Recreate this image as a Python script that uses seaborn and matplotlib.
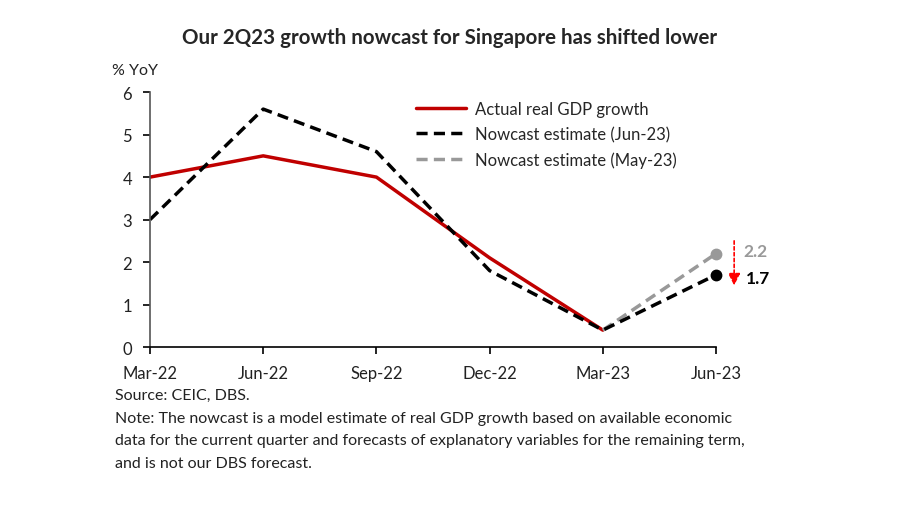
import matplotlib
matplotlib.use("Agg")
import matplotlib.pyplot as plt
import seaborn as sns
import pandas as pd
import numpy as np

quarters = ["Mar-22", "Jun-22", "Sep-22", "Dec-22", "Mar-23", "Jun-23"]
actual = [4.0, 4.5, 4.0, 2.1, 0.4, None]
nowcast_jun = [3.0, 5.6, 4.6, 1.8, 0.4, 1.7]
nowcast_may = [None, None, None, None, 0.4, 2.2]
y_ticks = [0, 1, 2, 3, 4, 5, 6]

sns.set_theme(style="white")
plt.rcParams["font.family"] = ["Lato", "DejaVu Sans"]

fig = plt.figure(figsize=(9, 5.06), dpi=100)
ax = fig.add_axes([0.1667, 0.312, 0.7956 - 0.1667, 0.816 - 0.312])

x = np.arange(len(quarters))
df = pd.DataFrame({"x": x, "q": quarters, "actual": actual,
                   "jun": nowcast_jun, "may": nowcast_may})

sns.lineplot(data=df.dropna(subset=["actual"]), x="x", y="actual", ax=ax,
             color="#c00000", lw=2.5, label="Actual real GDP growth")
sns.lineplot(data=df.dropna(subset=["may"]), x="x", y="may", ax=ax,
             color="#999999", lw=2.5, linestyle=(0, (3.2, 1.8)),
             label="Nowcast estimate (May-23)")
sns.lineplot(data=df, x="x", y="jun", ax=ax,
             color="black", lw=2.5, linestyle=(0, (3.2, 1.8)),
             label="Nowcast estimate (Jun-23)")

ax.plot(x[-1], nowcast_may[-1], "o", color="#999999", ms=7.5, zorder=5, clip_on=False)
ax.plot(x[-1], nowcast_jun[-1], "o", color="black", ms=7.5, zorder=5, clip_on=False)

ax.set_xlim(0, len(quarters) - 1)
ax.set_ylim(0, 6)
ax.set_xticks(x)
ax.set_xticklabels(quarters)
ax.set_yticks(y_ticks)
ax.set_xlabel("")
ax.set_ylabel("")
for s in ["top", "right"]:
    ax.spines[s].set_visible(False)
for s in ["left", "bottom"]:
    ax.spines[s].set_color("black")
    ax.spines[s].set_linewidth(1.2)
ax.spines["left"].set_color("#555555")
ax.tick_params(axis="both", direction="out", length=5, width=1.2, color="black",
               labelsize=12, labelcolor="#222222", bottom=True, left=True)
ax.tick_params(axis="x", pad=8)
ax.tick_params(axis="y", pad=8)

handles, labels = ax.get_legend_handles_labels()
order = [0, 2, 1]
ax.legend([handles[i] for i in order], [labels[i] for i in order],
          loc="upper left", bbox_to_anchor=(0.444, 1.025), frameon=False,
          fontsize=12, handlelength=3.0, handletextpad=0.5, labelspacing=0.55)

# annotation arrow
ax.annotate("", xy=(5.16, 1.45), xytext=(5.16, 2.5), annotation_clip=False,
            arrowprops=dict(arrowstyle="-|>", color="red", lw=1.2,
                            linestyle=(0, (2, 1.5)), mutation_scale=18,
                            shrinkA=0, shrinkB=0))
ax.text(5.24, 2.25, f"{nowcast_may[-1]:.1f}", color="#999999", fontsize=12.5,
        fontweight="bold", va="center", ha="left")
ax.text(5.26, 1.62, f"{nowcast_jun[-1]:.1f}", color="black", fontsize=12.5,
        fontweight="bold", va="center", ha="left")

fig.text(0.150, 0.860, "% YoY", fontsize=11.5, color="#222222", ha="center", va="center")
fig.text(0.5, 0.925, "Our 2Q23 growth nowcast for Singapore has shifted lower",
         fontsize=14.8, fontweight="bold", ha="center", va="center")

notes = ("Source: CEIC, DBS.\n"
         "Note: The nowcast is a model estimate of real GDP growth based on available economic\n"
         "data for the current quarter and forecasts of explanatory variables for the remaining term,\n"
         "and is not our DBS forecast.")
fig.text(0.128, 0.231, notes, fontsize=11.5, color="#222222", ha="left", va="top",
         linespacing=1.78)

fig.savefig("out.png", dpi=100)
